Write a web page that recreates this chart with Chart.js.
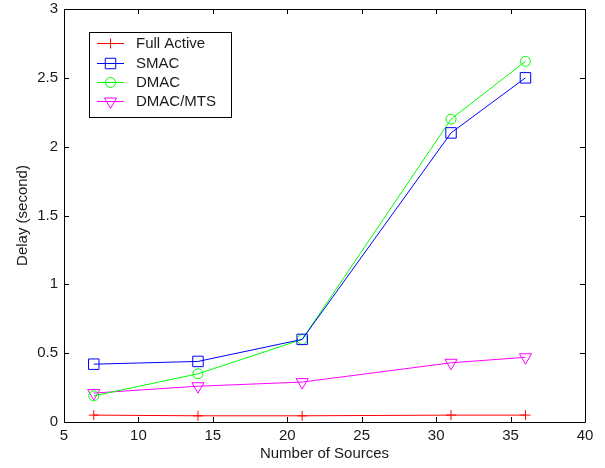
<!DOCTYPE html>
<html>
<head>
<meta charset="utf-8">
<script src="https://cdn.jsdelivr.net/npm/chart.js@4.4.1/dist/chart.umd.min.js"></script>
<style>
html,body{margin:0;padding:0;background:#fff;}
#wrap{width:605px;height:468px;position:relative;}
</style>
</head>
<body>
<div id="wrap"><canvas id="c" width="605" height="468"></canvas></div>
<script>
const sources = [7, 14, 21, 31, 36];
const fullActive = [0.05, 0.045, 0.045, 0.05, 0.05];
const smac = [0.42, 0.44, 0.60, 2.10, 2.50];
const dmac = [0.19, 0.35, 0.60, 2.20, 2.62];
const dmacMts = [0.21, 0.26, 0.29, 0.43, 0.47];
const seriesNames = ['Full Active', 'SMAC', 'DMAC', 'DMAC/MTS'];
const xTicks = [5, 10, 15, 20, 25, 30, 35, 40];
const yTicks = [0, 0.5, 1, 1.5, 2, 2.5, 3];

const FONT = '"Liberation Sans", Arial, sans-serif';
const FS = 15;
const TXT = '#1a1a1a';

function pts(ys){ return sources.map((x,i)=>({x:x, y:ys[i]})); }

const styles = [
  {color:'#ff0000', pointStyle:'cross', radius:5, rotation:0},
  {color:'#0000ff', pointStyle:'rect', radius:7.4, rotation:0},
  {color:'#00ff00', pointStyle:'circle', radius:5, rotation:0},
  {color:'#ff00ff', pointStyle:'triangle', radius:7, rotation:180}
];
const seriesData = [fullActive, smac, dmac, dmacMts];

const datasets = seriesNames.map((n,i)=>({
  label:n,
  data:pts(seriesData[i]),
  borderColor:styles[i].color,
  backgroundColor:'rgba(0,0,0,0)',
  borderWidth:1,
  pointStyle:styles[i].pointStyle,
  pointRadius:styles[i].radius,
  pointRotation:styles[i].rotation,
  pointBorderColor:styles[i].color,
  pointBackgroundColor:'rgba(0,0,0,0)',
  pointBorderWidth:1,
  tension:0,
  fill:false
}));

const boxPlugin = {
  id:'boxPlugin',
  afterDatasetsDraw(chart){
    const ctx = chart.ctx, a = chart.chartArea;
    const xs = chart.scales.x, ys = chart.scales.y;
    ctx.save();
    ctx.strokeStyle = '#000';
    ctx.lineWidth = 1;
    ctx.beginPath();
    ctx.rect(Math.round(a.left)+0.5, Math.round(a.top)+0.5, Math.round(a.right-a.left), Math.round(a.bottom-a.top));
    ctx.stroke();
    const L = 5;
    ctx.beginPath();
    xTicks.forEach(v=>{
      const px = Math.round(xs.getPixelForValue(v))+0.5;
      ctx.moveTo(px, a.bottom); ctx.lineTo(px, a.bottom-L);
      ctx.moveTo(px, a.top); ctx.lineTo(px, a.top+L);
    });
    yTicks.forEach(v=>{
      const py = Math.round(ys.getPixelForValue(v))+0.5;
      ctx.moveTo(a.left, py); ctx.lineTo(a.left+L, py);
      ctx.moveTo(a.right, py); ctx.lineTo(a.right-L, py);
    });
    ctx.stroke();

    // legend box
    const lx = 89.5, ly = 32.5, lw = 142, lh = 85;
    ctx.fillStyle = '#fff';
    ctx.fillRect(lx, ly, lw, lh);
    ctx.strokeStyle = '#000';
    ctx.strokeRect(lx, ly, lw, lh);
    ctx.font = FS + 'px ' + FONT;
    ctx.textBaseline = 'middle';
    ctx.textAlign = 'left';
    const rowY = [43, 63, 82, 101];
    seriesNames.forEach((n,i)=>{
      const y = rowY[i] + 0.5;
      ctx.strokeStyle = styles[i].color;
      ctx.lineWidth = 1;
      ctx.beginPath(); ctx.moveTo(97, y); ctx.lineTo(124, y); ctx.stroke();
      ctx.fillStyle = 'rgba(0,0,0,0)';
      Chart.helpers.drawPoint(ctx, {pointStyle:styles[i].pointStyle, radius:styles[i].radius, rotation:styles[i].rotation, borderWidth:1}, 110.5, y);
      ctx.fillStyle = TXT;
      ctx.fillText(n, 136, rowY[i]+1);
    });
    ctx.restore();
  }
};

new Chart(document.getElementById('c'), {
  type:'line',
  data:{datasets:datasets},
  options:{
    responsive:false,
    animation:false,
    devicePixelRatio:1,
    layout:{padding:{left:0, right:20, top:9, bottom:0}},
    plugins:{legend:{display:false}, tooltip:{enabled:false}},
    scales:{
      x:{
        type:'linear', min:5, max:40,
        afterBuildTicks(s){ s.ticks = xTicks.map(v=>({value:v})); },
        afterFit(s){ s.height = 46; s.paddingLeft = 0; s.paddingRight = 0; },
        grid:{display:false, drawTicks:false},
        border:{display:false},
        ticks:{color:TXT, font:{family:FONT, size:FS}, padding:5, maxRotation:0,
          callback:(v)=>String(v)},
        title:{display:true, text:'Number of Sources', color:TXT, font:{family:FONT, size:FS}, padding:{top:0,bottom:5}}
      },
      y:{
        type:'linear', min:0, max:3,
        afterBuildTicks(s){ s.ticks = yTicks.map(v=>({value:v})); },
        afterFit(s){ s.width = 64; s.paddingTop = 0; s.paddingBottom = 0; },
        grid:{display:false, drawTicks:false},
        border:{display:false},
        ticks:{color:TXT, font:{family:FONT, size:FS}, padding:6,
          callback:(v)=>String(v)},
        title:{display:true, text:'Delay (second)', color:TXT, font:{family:FONT, size:FS}, padding:{top:14,bottom:0}}
      }
    }
  },
  plugins:[boxPlugin]
});
</script>
</body>
</html>
